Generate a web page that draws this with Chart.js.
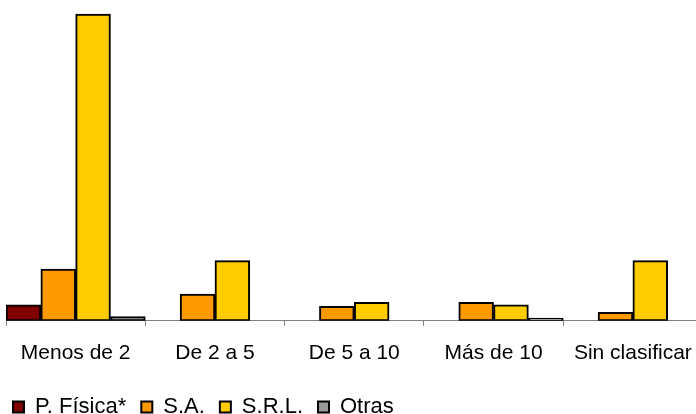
<!DOCTYPE html>
<html>
<head>
<meta charset="utf-8">
<script src="https://cdn.jsdelivr.net/npm/chart.js@4/dist/chart.umd.min.js"></script>
<style>
  html, body { margin: 0; padding: 0; overflow: hidden; background: #fff; }
  #wrap { position: relative; width: 707px; height: 414px; }
</style>
</head>
<body>
<div id="wrap"><canvas id="myChart"></canvas></div>
<script>
const categories = ["Menos de 2", "De 2 a 5", "De 5 a 10", "Más de 10", "Sin clasificar"];
const seriesNames = ["P. Física*", "S.A.", "S.R.L.", "Otras"];
const pFisica = [5.2, 0, 0, 0, 0];
const sa = [16.9, 8.7, 4.7, 6.0, 2.8];
const srl = [100, 19.6, 6.0, 5.2, 19.6];
const otras = [1.4, 0, 0, 0.9, 0];
const colors = ["#800000", "#ff9900", "#ffcc00", "#999999"];

const values = [pFisica, sa, srl, otras];

let ctx = document.getElementById("myChart");

new Chart(ctx, {
  type: 'bar',
  data: {
    labels: categories,
    datasets: seriesNames.map((name, i) => ({
      label: name,
      data: values[i],
      backgroundColor: colors[i],
      borderColor: "#000000",
      borderWidth: 2,
      borderSkipped: false,
      categoryPercentage: 1.0,
      barPercentage: 1.0
    }))
  },
  options: {
    responsive: true,
    maintainAspectRatio: false,
    animation: false,
    layout: { padding: { top: 0, right: 2, bottom: -14, left: -2 } },
    plugins: {
      tooltip: { enabled: false },
      legend: {
        position: 'bottom',
        align: 'start',
        labels: {
          boxWidth: 11,
          boxHeight: 11,
          padding: 15,
          color: "#000",
          font: { family: "'Liberation Sans', Arial, sans-serif", size: 22 }
        }
      }
    },
    scales: {
      x: {
        grid: {
          drawOnChartArea: false,
          drawTicks: true,
          tickLength: 5,
          color: "#808080",
          offset: true
        },
        border: { color: "#808080", width: 1 },
        ticks: {
          color: "#000",
          padding: 15,
          maxRotation: 0,
          autoSkip: false,
          font: { family: "'Liberation Sans', Arial, sans-serif", size: 21 }
        }
      },
      y: {
        min: 0,
        max: 104.6,
        grid: { display: false },
        border: { display: false },
        ticks: { display: false },
        afterFit: (scale) => { scale.width = 8; }
      }
    }
  }
});
</script>
</body>
</html>
